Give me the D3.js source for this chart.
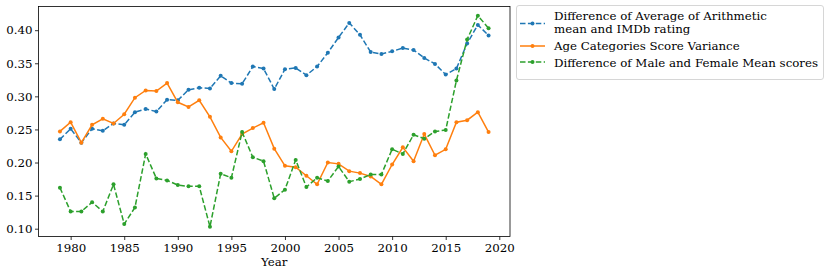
<!DOCTYPE html>
<html><head><meta charset="utf-8">
<script src="https://cdn.jsdelivr.net/npm/d3@7"></script>
<style>body{margin:0;background:#fff}svg{display:block}</style>
</head><body><svg id="c" width="830" height="275"></svg>
<script>
const years = d3.range(1979, 2020);
const diffAvg = [0.235,0.251,0.230,0.251,0.248,0.259,0.257,0.276,0.281,0.277,0.295,0.294,0.310,0.313,0.312,0.331,0.320,0.319,0.345,0.342,0.311,0.341,0.343,0.332,0.345,0.366,0.389,0.411,0.393,0.367,0.364,0.368,0.373,0.370,0.358,0.349,0.333,0.342,0.380,0.408,0.392];
const ageVar = [0.247,0.261,0.230,0.257,0.266,0.259,0.273,0.298,0.309,0.308,0.320,0.291,0.284,0.294,0.269,0.238,0.217,0.243,0.252,0.260,0.221,0.195,0.193,0.180,0.167,0.200,0.198,0.187,0.184,0.179,0.167,0.197,0.223,0.202,0.243,0.211,0.220,0.261,0.264,0.276,0.246];
const diffMF = [0.162,0.126,0.126,0.140,0.126,0.167,0.107,0.132,0.213,0.176,0.173,0.166,0.164,0.164,0.103,0.183,0.177,0.246,0.208,0.202,0.146,0.159,0.204,0.163,0.177,0.172,0.194,0.171,0.175,0.182,0.182,0.220,0.213,0.242,0.236,0.247,0.249,0.324,0.386,0.422,0.403];
const seriesNames = ["Difference of Average of Arithmetic\nmean and IMDb rating","Age Categories Score Variance","Difference of Male and Female Mean scores"];
const colors = ["#1f77b4","#ff7f0e","#2ca02c"];
const dashes = ["5.5,2.4",null,"5.5,2.4"];
const xTicks = [1980,1985,1990,1995,2000,2005,2010,2015,2020];
const yTicks = [0.10,0.15,0.20,0.25,0.30,0.35,0.40];
const FONT = "'DejaVu Serif', 'Liberation Serif', serif";
const FS = 11.8;

const svg = d3.select("#c");
const L=38.5, R=510, T=6.5, B=236.5;
const x = d3.scaleLinear().domain([1977,2021]).range([L,R]);
const y = d3.scaleLinear().domain([0.0882,0.4358]).range([B,T]);

const allSeries=[diffAvg,ageVar,diffMF];
const line = d3.line().x((d,i)=>x(years[i])).y(d=>y(d));
allSeries.forEach((s,k)=>{
  const g=svg.append("g");
  g.append("path").attr("d",line(s)).attr("fill","none").attr("stroke",colors[k]).attr("stroke-width",1.5)
   .attr("stroke-dasharray",dashes[k]);
  g.selectAll("circle").data(s).join("circle").attr("cx",(d,i)=>x(years[i])).attr("cy",d=>y(d)).attr("r",2).attr("fill",colors[k]);
});

const xa = svg.append("g").attr("transform",`translate(0,${B})`).call(d3.axisBottom(x).tickValues(xTicks).tickFormat(d3.format("d")).tickSize(3.5).tickPadding(3.5));
const ya = svg.append("g").attr("transform",`translate(${L},0)`).call(d3.axisLeft(y).tickValues(yTicks).tickFormat(d3.format(".2f")).tickSize(3.5).tickPadding(2.5));
[xa,ya].forEach(a=>{a.attr("font-family",FONT);a.select(".domain").remove();a.selectAll("line").attr("stroke","#000").attr("stroke-width",0.8);a.selectAll("text").attr("font-size",FS).attr("fill","#000");});
svg.append("rect").attr("x",L).attr("y",T).attr("width",R-L).attr("height",B-T).attr("fill","none").attr("stroke","#000").attr("stroke-width",0.8);
svg.append("text").attr("x",(L+R)/2).attr("y",266).attr("text-anchor","middle").attr("font-family",FONT).attr("font-size",FS).text("Year");

// legend
const lg = svg.append("g").attr("font-family",FONT);
lg.append("rect").attr("x",516.5).attr("y",5.5).attr("width",307).attr("height",74).attr("rx",2.5).attr("fill","#fff").attr("stroke","#ccc").attr("stroke-width",0.8);
const rows=[{ty:[19.8,33.2],hy:23.5},{ty:[50],hy:46},{ty:[66.5],hy:62}];
rows.forEach((r,k)=>{
  lg.append("line").attr("x1",520).attr("x2",545).attr("y1",r.hy).attr("y2",r.hy).attr("stroke",colors[k]).attr("stroke-width",1.5).attr("stroke-dasharray",dashes[k]);
  lg.append("circle").attr("cx",532.5).attr("cy",r.hy).attr("r",2).attr("fill",colors[k]);
  seriesNames[k].split("\n").forEach((t,j)=>{
    lg.append("text").attr("x",554).attr("y",r.ty[j]).attr("font-size",FS).text(t);
  });
});
</script></body></html>
